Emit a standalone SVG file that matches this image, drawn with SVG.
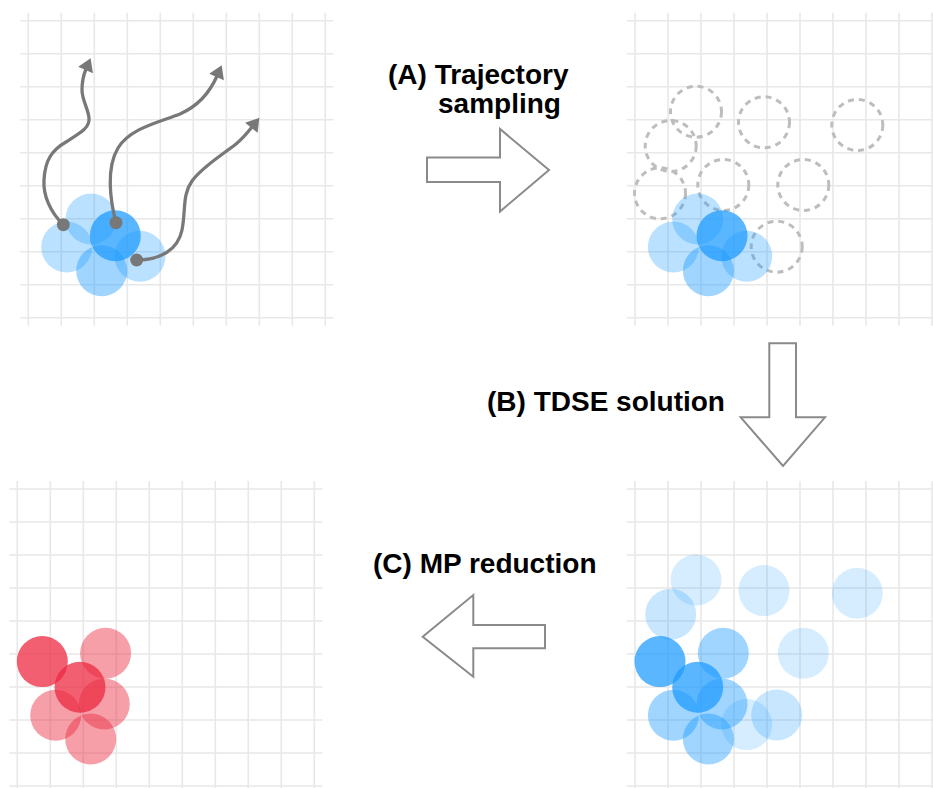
<svg xmlns="http://www.w3.org/2000/svg" width="933" height="788" viewBox="0 0 933 788">
<style>
.grid{fill:none;stroke:#e8e8e8;stroke-width:1.6}
.vl{fill:#1a9aff;fill-opacity:0.18}
.ll{fill:#1a9aff;fill-opacity:0.24}
.lb{fill:#1a9aff;fill-opacity:0.3}
.mb{fill:#1a9aff;fill-opacity:0.42}
.db{fill:#1a9aff;fill-opacity:0.72}
.lr{fill:#ec2a40;fill-opacity:0.45}
.dr{fill:#ec2a40;fill-opacity:0.75}
.dash{fill:none;stroke:#bdbdbd;stroke-width:3;stroke-dasharray:6 5}
.traj{fill:none;stroke:#787878;stroke-width:3.3;marker-end:url(#ah)}
.dot{fill:#787878}
.big{fill:#fff;stroke:#8a8a8a;stroke-width:2}
.lbl{font-family:"Liberation Sans",Arial,sans-serif;font-weight:bold;font-size:28px;fill:#000}
</style>
<defs>
<marker id="ah" markerUnits="userSpaceOnUse" markerWidth="14" markerHeight="16" viewBox="0 0 12 15" refX="1" refY="7.5" orient="auto"><path d="M0,0 L12,7.5 L0,15 z" fill="#787878"/></marker>
<g id="grid">
<path class="grid" d="M-8,0H305M-8,33H305M-8,66H305M-8,99H305M-8,132H305M-8,165H305M-8,198H305M-8,231H305M-8,264H305M-8,297H305M0,-8V305M33,-8V305M66,-8V305M99,-8V305M132,-8V305M165,-8V305M198,-8V305M231,-8V305M264,-8V305M297,-8V305"/>
</g>
</defs>
<rect width="933" height="788" fill="#fff"/>

<g id="panel-initial">
<use href="#grid" x="28.3" y="20.7"/>
<circle class="lb" cx="91" cy="219" r="25.5"/>
<circle class="lb" cx="66.7" cy="247" r="25.5"/>
<circle class="mb" cx="101.7" cy="270.7" r="25.5"/>
<circle class="lb" cx="140" cy="256.3" r="25.5"/>
<circle class="db" cx="115.3" cy="235.7" r="25.5"/>
<path class="traj" d="M63.3,224.7 C50,212 43,195 44,180 C45,160 52,150 66,142 C80,133 90,128 89,118 C88,108 82,100 82,90 C82,84 83,76 86,69"/>
<path class="traj" d="M116,222.7 C110,200 106,168 118,148 C130,128 160,122 180,114 C198,106 210,92 217,76"/>
<path class="traj" d="M136.7,260 C160,260 178,250 182,230 C186,210 182,195 192,181 C202,167 222,155 236,144 C242,139 248,132 252,127"/>
<circle class="dot" cx="63.3" cy="224.7" r="6.5"/>
<circle class="dot" cx="116" cy="222.7" r="6.5"/>
<circle class="dot" cx="136.7" cy="260" r="6.5"/>
</g>

<g id="panel-sampled">
<use href="#grid" x="635" y="20.7"/>
<circle class="dash" cx="696" cy="111.7" r="25.5"/>
<circle class="dash" cx="764" cy="122.3" r="25.5"/>
<circle class="dash" cx="857.3" cy="125" r="25.5"/>
<circle class="dash" cx="670.7" cy="146" r="25.5"/>
<circle class="dash" cx="723.3" cy="185" r="25.5"/>
<circle class="dash" cx="803.3" cy="185" r="25.5"/>
<circle class="dash" cx="660" cy="193.3" r="25.5"/>
<circle class="dash" cx="776.7" cy="246.7" r="25.5"/>
<circle class="lb" cx="697.7" cy="219" r="25.5"/>
<circle class="lb" cx="673.4" cy="247" r="25.5"/>
<circle class="mb" cx="708.4" cy="270.7" r="25.5"/>
<circle class="lb" cx="746.7" cy="256.3" r="25.5"/>
<circle class="db" cx="722" cy="235.7" r="25.5"/>
</g>

<g id="panel-tdse">
<use href="#grid" x="635" y="489"/>
<circle class="vl" cx="696" cy="580" r="25.5"/>
<circle class="vl" cx="764" cy="590.6" r="25.5"/>
<circle class="vl" cx="857.3" cy="593.3" r="25.5"/>
<circle class="ll" cx="670.7" cy="614.3" r="25.5"/>
<circle class="vl" cx="803.3" cy="653.3" r="25.5"/>
<circle class="mb" cx="723.3" cy="653.3" r="25.5"/>
<circle class="ll" cx="776.7" cy="715" r="25.5"/>
<circle class="vl" cx="746.7" cy="724.6" r="25.5"/>
<circle class="mb" cx="673.4" cy="715.3" r="25.5"/>
<circle class="mb" cx="722" cy="704" r="25.5"/>
<circle class="mb" cx="708.4" cy="739" r="25.5"/>
<circle class="db" cx="660" cy="661.6" r="25.5"/>
<circle class="db" cx="697.7" cy="687.3" r="25.5"/>
</g>

<g id="panel-reduced">
<use href="#grid" x="17.3" y="489"/>
<circle class="lr" cx="105.6" cy="653.3" r="25.5"/>
<circle class="lr" cx="55.7" cy="715.3" r="25.5"/>
<circle class="lr" cx="104.3" cy="704" r="25.5"/>
<circle class="lr" cx="90.7" cy="739" r="25.5"/>
<circle class="dr" cx="42.3" cy="661.6" r="25.5"/>
<circle class="dr" cx="80" cy="687.3" r="25.5"/>
</g>

<g id="connectors">
<polygon class="big" points="427,157.5 500,157.5 500,129 549,170 500,211.5 500,182 427,182"/>
<polygon class="big" points="769.3,343.3 796,343.3 796,417.3 825,417.3 783,466 740.7,417.3 769.3,417.3"/>
<polygon class="big" points="545,625 473.3,625 473.3,595 422.7,636.7 473.3,676.7 473.3,648.3 545,648.3"/>
</g>

<g id="labels">
<text class="lbl" x="388" y="84">(A) Trajectory</text>
<text class="lbl" x="438" y="113">sampling</text>
<text class="lbl" x="487" y="411">(B) TDSE solution</text>
<text class="lbl" x="373" y="573">(C) MP reduction</text>
</g>
</svg>
